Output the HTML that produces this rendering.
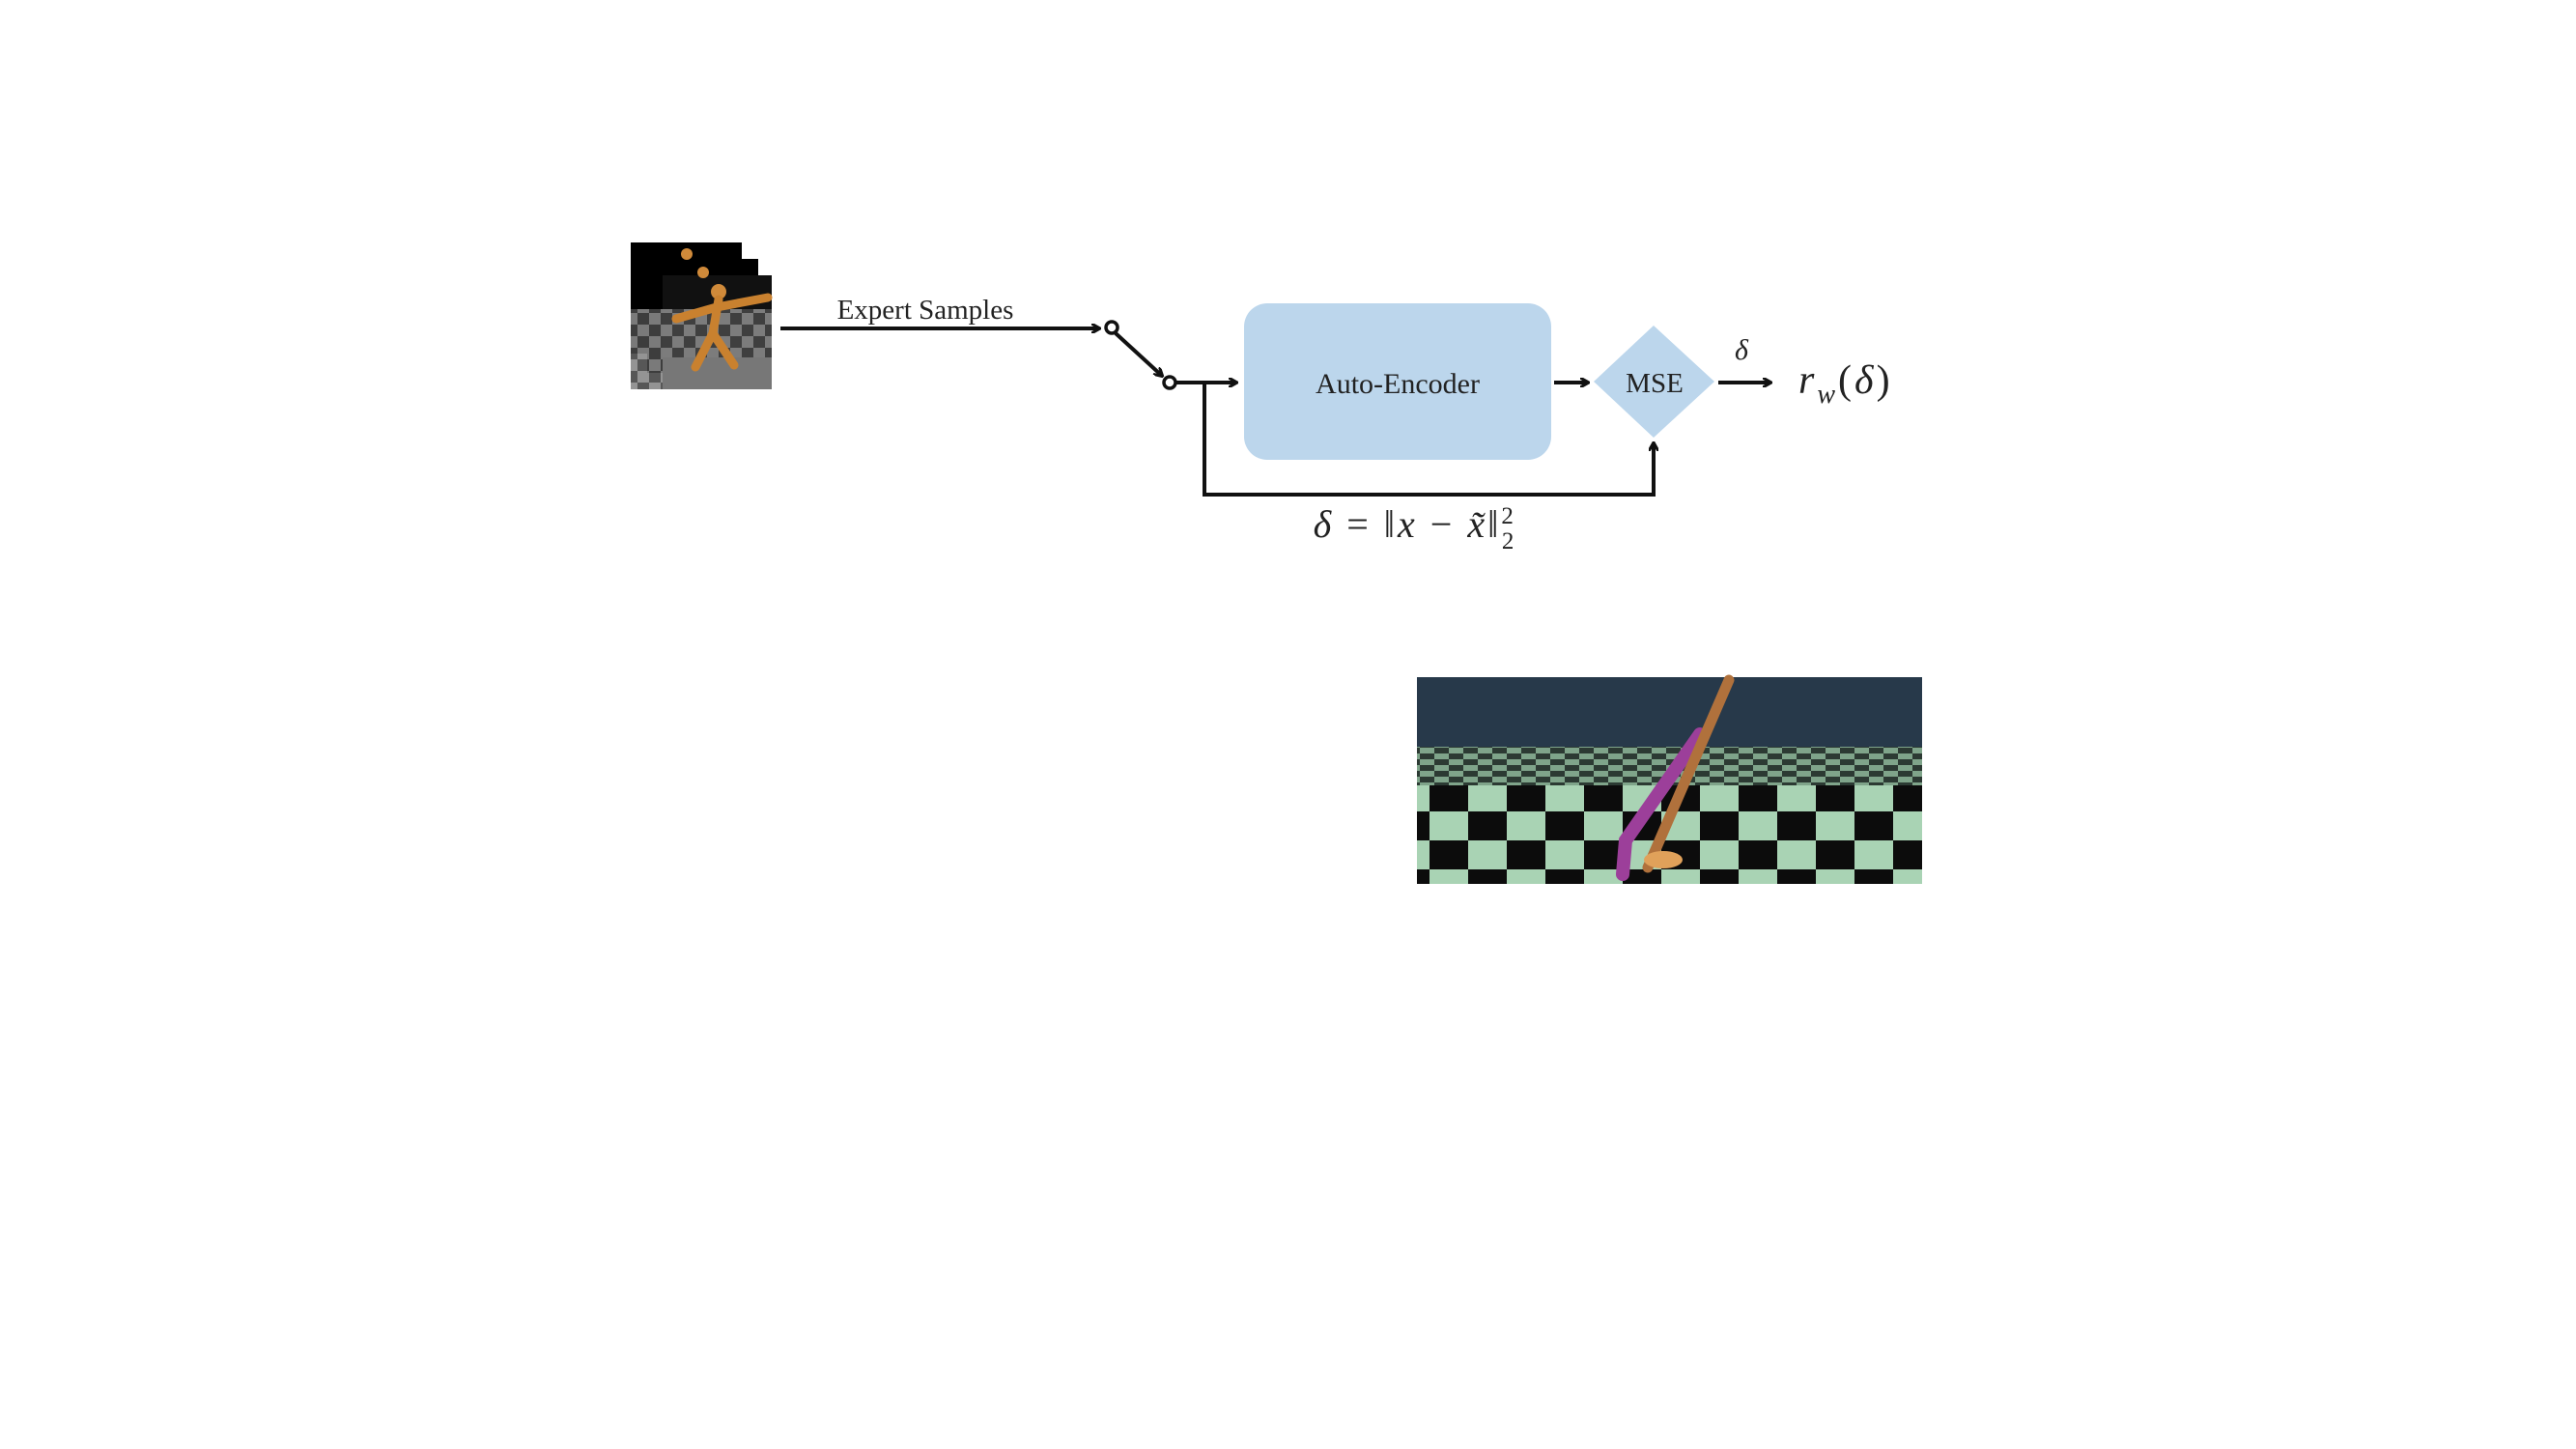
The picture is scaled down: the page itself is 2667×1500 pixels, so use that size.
<!DOCTYPE html>
<html><head><meta charset="utf-8"><style>
html,body{margin:0;padding:0;background:#fff;}
svg{display:block;}
text{font-family:"Liberation Serif",serif;fill:#222;}
</style></head><body>
<svg width="2667" height="1500" viewBox="0 0 2667 1500">
<defs>
<marker id="ah" markerWidth="10" markerHeight="10" refX="8" refY="5" orient="auto" markerUnits="userSpaceOnUse"><path d="M0,0 L9,5 L0,10" fill="none" stroke="#111" stroke-width="3"/></marker>
<pattern id="chk" width="80" height="60" patternUnits="userSpaceOnUse"><rect width="80" height="60" fill="#a9d3b4"/><rect width="40" height="30" fill="#0c0c0c"/><rect x="40" y="30" width="40" height="30" fill="#0c0c0c"/></pattern>
<pattern id="chkf" width="30" height="12" patternUnits="userSpaceOnUse"><rect width="30" height="12" fill="#7fa48a"/><rect width="15" height="6" fill="#2c3a33"/><rect x="15" y="6" width="15" height="6" fill="#2c3a33"/></pattern>
<pattern id="chk2" width="24" height="24" patternUnits="userSpaceOnUse"><rect width="24" height="24" fill="#888"/><rect width="12" height="12" fill="#444"/><rect x="12" y="12" width="12" height="12" fill="#444"/></pattern>
</defs>
<g>
<rect x="653" y="251" width="115" height="115" fill="#000"/>
<rect x="670" y="268" width="115" height="118" fill="#000"/>
<rect x="686" y="285" width="113" height="118" fill="#111"/>
<rect x="653" y="320" width="146" height="83" fill="url(#chk2)" opacity="0.9"/>
<rect x="686" y="370" width="113" height="33" fill="#777"/>
<circle cx="711" cy="263" r="6" fill="#d08a3a"/>
<circle cx="728" cy="282" r="6" fill="#d08a3a"/>
<circle cx="744" cy="302" r="8" fill="#d08a3a"/>
<path d="M744,310 L738,345 L720,380 M738,345 L760,378 M742,318 L795,308 M742,318 L700,330" stroke="#c9812f" stroke-width="9" fill="none" stroke-linecap="round"/>
</g>
<text x="958" y="330" font-size="29" text-anchor="middle">Expert Samples</text>
<line x1="808" y1="340" x2="1138" y2="340" stroke="#111" stroke-width="4" marker-end="url(#ah)"/>
<circle cx="1151" cy="339" r="6" fill="#fff" stroke="#111" stroke-width="3.5"/>
<line x1="1155" y1="345" x2="1203" y2="389" stroke="#111" stroke-width="4" marker-end="url(#ah)"/>
<circle cx="1211" cy="396" r="6" fill="#fff" stroke="#111" stroke-width="3.5"/>
<line x1="1218" y1="396" x2="1280" y2="396" stroke="#111" stroke-width="4" marker-end="url(#ah)"/>
<rect x="1288" y="314" width="318" height="162" rx="24" fill="#bcd6ec"/>
<text x="1447" y="407" font-size="30" text-anchor="middle">Auto-Encoder</text>
<line x1="1609" y1="396" x2="1644" y2="396" stroke="#111" stroke-width="4" marker-end="url(#ah)"/>
<polygon points="1712,337 1775,395 1712,453 1650,395" fill="#bcd6ec"/>
<text x="1713" y="406" font-size="29" text-anchor="middle">MSE</text>
<line x1="1779" y1="396" x2="1833" y2="396" stroke="#111" stroke-width="4" marker-end="url(#ah)"/>
<text x="1803" y="372" font-size="30" font-style="italic" text-anchor="middle">δ</text>
<text x="1862" y="407" font-size="42" font-style="italic" letter-spacing="3">r<tspan font-size="28" dy="10">w</tspan><tspan dy="-10" font-style="normal">(</tspan>δ<tspan font-style="normal">)</tspan></text>
<polyline points="1247,396 1247,512 1712,512 1712,459" fill="none" stroke="#111" stroke-width="4" marker-end="url(#ah)"/>
<text x="1465" y="556" font-size="40" text-anchor="middle" letter-spacing="3"><tspan font-style="italic">δ</tspan> = ‖<tspan font-style="italic">x</tspan> − <tspan font-style="italic">x̃</tspan>‖<tspan font-size="25" dy="-14">2</tspan><tspan font-size="25" dx="-15" dy="26">2</tspan></text>
<g>
<rect x="1467" y="701" width="523" height="214" fill="#27394a"/>
<rect x="1467" y="773" width="523" height="40" fill="url(#chkf)"/>
<rect x="1467" y="813" width="523" height="102" fill="url(#chk)"/>
<path d="M1680,905 L1683,870 L1760,760" stroke="#9c3f9a" stroke-width="14" fill="none" stroke-linecap="round"/>
<path d="M1706,898 L1790,704" stroke="#b0713c" stroke-width="11" fill="none" stroke-linecap="round"/>
<ellipse cx="1722" cy="890" rx="20" ry="9" fill="#e0a15a"/>
</g>
</svg>
</body></html>
